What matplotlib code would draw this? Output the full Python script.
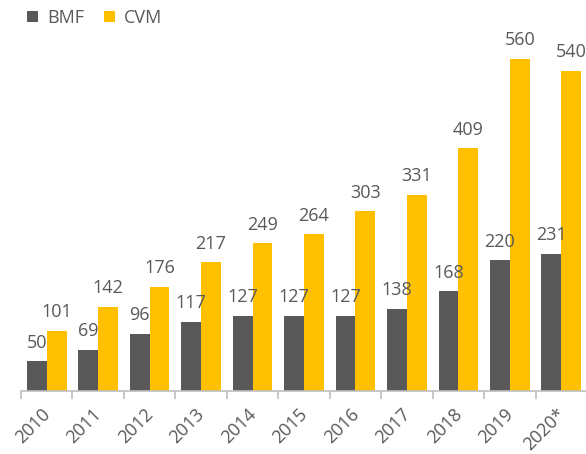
import matplotlib.pyplot as plt
import matplotlib.transforms as mtransforms
import numpy as np

years = ['2010', '2011', '2012', '2013', '2014', '2015', '2016', '2017', '2018', '2019', '2020*']
bmf = [50, 69, 96, 117, 127, 127, 127, 138, 168, 220, 231]
cvm = [101, 142, 176, 217, 249, 264, 303, 331, 409, 560, 540]

gray_bar = '#595959'
yellow_bar = '#FFC000'
text_col = '#595959'

plt.rcParams['font.family'] = ['Open Sans', 'DejaVu Sans']

fig = plt.figure(figsize=(5.86, 4.54), dpi=100)
ax = fig.add_axes([21 / 586, 63 / 454, 566 / 586, 391 / 454])

x = np.arange(len(years))
w = 0.385
b1 = ax.bar(x - w / 2, bmf, w, color=gray_bar, label='BMF')
b2 = ax.bar(x + w / 2, cvm, w, color=yellow_bar, label='CVM')
ax.bar_label(b1, padding=7, color=text_col, fontsize=13)
ax.bar_label(b2, padding=7, color=text_col, fontsize=13)

ax.set_xlim(-0.5, len(years) - 0.5)
ax.set_ylim(0, 659)
ax.set_yticks([])
for s in ['top', 'right', 'left']:
    ax.spines[s].set_visible(False)
ax.spines['bottom'].set_color('#bfbfbf')
ax.spines['bottom'].set_linewidth(1.2)

ax.set_xticks(np.arange(len(years) + 1) - 0.5, minor=True)
ax.tick_params(axis='x', which='minor', length=6, color='#bfbfbf', width=1.2)
ax.tick_params(axis='x', which='major', length=0, pad=10)
ax.set_xticks(x)
ax.set_xticklabels(years, rotation=45, ha='right', rotation_mode='anchor',
                   color=text_col, fontsize=13)
# nudge rotated labels left so their right end sits at the category centre
shift = mtransforms.ScaledTranslation(-4 / 72, 0, fig.dpi_scale_trans)
for lab in ax.get_xticklabels():
    lab.set_transform(lab.get_transform() + shift)

ax.legend(loc='upper left', bbox_to_anchor=(-0.005, 1.0), ncol=2, frameon=False,
          fontsize=13, labelcolor=text_col, handlelength=0.6, handleheight=0.6,
          handletextpad=0.5, columnspacing=1.1, borderaxespad=0.2, borderpad=0.3)

fig.savefig('out.png', dpi=100)
